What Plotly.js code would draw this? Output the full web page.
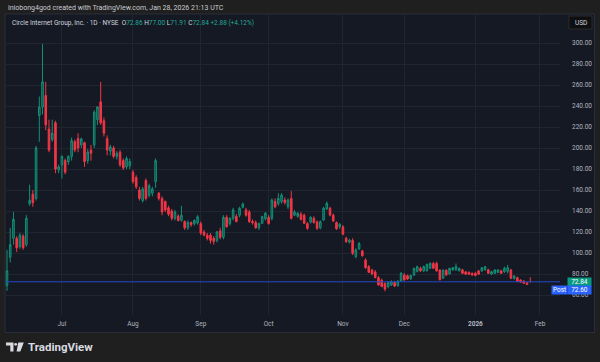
<!DOCTYPE html>
<html><head><meta charset="utf-8">
<script src="https://cdn.plot.ly/plotly-3.0.1.min.js"></script>
<style>html,body{margin:0;padding:0;background:#1f1f1f;overflow:hidden}#chart{width:600px;height:362px}</style>
</head><body><div id="chart"></div>
<script>
// ---- Data (CRCL daily) ----
const dates = [
 '2025-06-05','2025-06-06','2025-06-09','2025-06-10','2025-06-11','2025-06-12','2025-06-13','2025-06-16','2025-06-17','2025-06-18','2025-06-20','2025-06-23','2025-06-24','2025-06-25','2025-06-26','2025-06-27','2025-06-30',
 '2025-07-01','2025-07-02','2025-07-03','2025-07-07','2025-07-08','2025-07-09','2025-07-10','2025-07-11','2025-07-14','2025-07-15','2025-07-16','2025-07-17','2025-07-18','2025-07-21','2025-07-22','2025-07-23','2025-07-24','2025-07-25','2025-07-28','2025-07-29','2025-07-30','2025-07-31',
 '2025-08-01','2025-08-04','2025-08-05','2025-08-06','2025-08-07','2025-08-08','2025-08-11','2025-08-12','2025-08-13','2025-08-14','2025-08-15','2025-08-18','2025-08-19','2025-08-20','2025-08-21','2025-08-22','2025-08-25','2025-08-26','2025-08-27','2025-08-28','2025-08-29',
 '2025-09-02','2025-09-03','2025-09-04','2025-09-05','2025-09-08','2025-09-09','2025-09-10','2025-09-11','2025-09-12','2025-09-15','2025-09-16','2025-09-17','2025-09-18','2025-09-19','2025-09-22','2025-09-23','2025-09-24','2025-09-25','2025-09-26','2025-09-29','2025-09-30',
 '2025-10-01','2025-10-02','2025-10-03','2025-10-06','2025-10-07','2025-10-08','2025-10-09','2025-10-10','2025-10-13','2025-10-14','2025-10-15','2025-10-16','2025-10-17','2025-10-20','2025-10-21','2025-10-22','2025-10-23','2025-10-24','2025-10-27','2025-10-28','2025-10-29','2025-10-30','2025-10-31',
 '2025-11-03','2025-11-04','2025-11-05','2025-11-06','2025-11-07','2025-11-10','2025-11-11','2025-11-12','2025-11-13','2025-11-14','2025-11-17','2025-11-18','2025-11-19','2025-11-20','2025-11-21','2025-11-24','2025-11-25','2025-11-26','2025-11-28',
 '2025-12-01','2025-12-02','2025-12-03','2025-12-04','2025-12-05','2025-12-08','2025-12-09','2025-12-10','2025-12-11','2025-12-12','2025-12-15','2025-12-16','2025-12-17','2025-12-18','2025-12-19','2025-12-22','2025-12-23','2025-12-24','2025-12-26','2025-12-29','2025-12-30','2025-12-31',
 '2026-01-02','2026-01-05','2026-01-06','2026-01-07','2026-01-08','2026-01-09','2026-01-12','2026-01-13','2026-01-14','2026-01-15','2026-01-16','2026-01-20','2026-01-21','2026-01-22','2026-01-23','2026-01-26','2026-01-27','2026-01-28'
];
const open = [
 69,96,114,114,106,116,108,147,156,152,231,239,250,218,208,224,179,
 184,188,187,192,206,209,203,205,188,198,203,227,244,226,209,197,200,192,196,188,182,183,
 177,172,160,150,169,155,157,168,157,152,149,143,140,133,135,131,130,124,129,128,128.5,
 128,120,117,117,114,112,121,115,134,128,133,135,136,143.5,141,139,130,129,124,128.3,132.5,
 134,133,149,147,149,150.5,144,152,136,135,137,136,128,129.5,133,129.5,124,131.5,142,142.6,136,129,125,
 125,114,110.5,112,96.5,104,102,93.3,87,83.8,82,76.5,74,71,68,69.5,72,69,73.3,
 79,78.4,75.5,79,82.5,85.4,83,83,85.5,90,90,83.8,76,83.5,80,84,84,83,84,82,81.5,80.6,
 80.6,82.9,83,84,84,80,80.6,81.6,83,82.2,82.5,83.8,75.5,76.5,74.3,73.3,71.5,72.86
];
const high = [
 103,124,139,116,119,118,136,165,160,202,249,299,263,227,227,226,184,
 193,190,193,210,208,214,210,206,199,203,236,240,263,229,212,203,202,197,198,190,192,190,
 179,174,163,163,171,166,163,190,158,154,150,145,142,141,137,145,131,131,130,132,136,
 130,122,119,119,116,121,124,136,136,134,143,137,144,148,143,141,132,131,129,135.5,139,
 136,152,152,157,157,153,152,159,141,139,139,137.5,129.5,135,135,131,131,144,149,144,137.5,130,128.5,
 126.5,115.5,113.5,114,104.5,110.5,103,95,88.5,85,83.8,78,75.5,72,73,74,73.5,74,82,
 81,79.5,79.5,86,88,87,88,90,91,91.5,91.8,84.5,84.5,84.5,86,86.5,90,86,85,83,82.5,81.5,
 82,84,86.5,87.5,85,83,84.5,84.5,84,87,88.6,85,79,77.5,75,74,72.5,77.00
];
const low = [
 64,91,108,101,104,103,106,145,144,150,206,232,217,196,206,176,176,
 171,175,184,188,196,196,200,182,185,188,200,222,222,211,193,193,190,189,182,179,180,180,
 166,161,150,148,150,153,154,162,150,136,139,135,131,131,130,130,122,122,125,126,127,
 117,116,112,109,108,110,113,113,124,126,131,129,134,142.5,134.6,128.5,127,123,122,127.5,131,
 127,131,142.6,145,147,146,142,132,135,133.5,131,127.5,122,128,128,122,122.5,130.5,141,135,129.5,122,123,
 117,109.5,109,98,95,103,96.5,85,81,79,76,69,67.5,63.5,66.5,68.5,67.5,68,72.5,
 73.5,74.5,74.5,78,81.5,82,82,82.5,85,85,82.2,74,75.5,78.5,79.5,83,83,82.5,80,79.5,79.3,78.5,
 78,79.5,82,83,80,79,80,81,80,81,80.6,75,75,72.2,71.5,70.5,69.5,71.91
];
const close = [
 83,108,132,105,117,105,133,150,148,200,239,263,222,198,214,180,182,
 192,177,192,207,198,200,208.6,187,196,195,234,239,224,214,198,201,192,195,184,181,190,187,
 168,163,152,161,152,164,161,188,152,139,141,137,133,139,131,136,124,129,127,131,134.5,
 119,117,114,112,111,120,115,134,125,133,141,130,142.6,146.7,136,130,129,124,128,134.6,137.8,
 128,150.5,144,152,155,148,150.5,133,139,137.8,132,128.3,123.5,134,129,123.5,129.8,142.6,147.3,136.2,130.5,123,127.3,
 117.8,110.8,112,99.7,102.9,109,97.4,86,81.6,80,76.5,69.5,68,65.7,72,72.7,68.5,73.3,80.6,
 74.3,75.2,78.5,85.4,87,83,87,89,90.2,85.5,83,74.5,83.5,79,85.4,86,87,85.4,80.6,79.8,79.7,79,
 78.5,79.8,86,87,80.6,82.2,83.8,83.8,80.6,85.4,86,76,78,72.8,72.2,71.2,69.96,72.84
];
const postPrice = 72.60;
const futureDates = ['2026-01-29','2026-01-30','2026-02-02'];
const tickDates = ['2025-07-01','2025-08-01','2025-09-02','2025-10-01','2025-11-03','2025-12-01','2026-01-02','2026-02-02'];
const tickLabels = ['Jul','Aug','Sep','Oct','Nov','Dec','<b>2026</b>','Feb'];
const yTicks = [60,80,100,120,140,160,180,200,220,240,260,280,300];

// ---- Geometry ----
const W=600, H=362, ML=5, MR=40, MT=15, MB=47;
const PW=W-ML-MR, PH=H-MT-MB;
const px = x => (x-ML)/PW;
const py = y => (H-MB-y)/PH;
const P = (x,y) => px(x)+','+py(y);

const allDates = dates.concat(futureDates);
const xs = dates.map((d,i)=>i);
const tickvals = tickDates.map(d => allDates.indexOf(d));

const n = close.length;
const lastO = open[n-1], lastH = high[n-1], lastL = low[n-1], lastC = close[n-1];
const chg = lastC - close[n-2];
const pct = chg / close[n-2] * 100;
const G = '#22ab94', LBL = '#d1d4dc';
const sp = (c,t) => '<span style="color:'+c+'">'+t+'</span>';
const header = 'Circle Internet Group, Inc. · 1D · NYSE&nbsp;&nbsp;' +
  sp(LBL,'O')+sp(G,lastO.toFixed(2))+' '+sp(LBL,'H')+sp(G,lastH.toFixed(2))+' '+
  sp(LBL,'L')+sp(G,lastL.toFixed(2))+' '+sp(LBL,'C')+sp(G,lastC.toFixed(2))+' '+
  sp(G,(chg>=0?'+':'')+chg.toFixed(2)+' ('+(chg>=0?'+':'')+pct.toFixed(2)+'%)');

const FONT = 'Roboto, "Liberation Sans", sans-serif';
const trace = {
  type:'candlestick', x:xs, open:open, high:high, low:low, close:close,
  increasing:{line:{color:'#12917a', width:1}, fillcolor:'#0d4a43'},
  decreasing:{line:{color:'#f23645', width:1}, fillcolor:'#f23645'},
  whiskerwidth:0, hoverinfo:'skip', showlegend:false
};

const layout = {
  width:W, height:H, margin:{l:ML, r:MR, t:MT, b:MB, pad:0},
  paper_bgcolor:'#1f1f1f', plot_bgcolor:'rgba(0,0,0,0)',
  font:{family:FONT, color:'#b2b5be', size:7},
  showlegend:false, dragmode:false,
  xaxis:{type:'linear', range:[-0.62,171.2], rangeslider:{visible:false},
    tickmode:'array', tickvals:tickvals, ticktext:tickLabels,
    tickfont:{size:6.5, color:'#b2b5be', family:FONT},
    showgrid:true, gridcolor:'#21252f', gridwidth:1, zeroline:false, showline:false,
    ticks:'', ticklabelstandoff:3, fixedrange:true},
  yaxis:{side:'right', range:[40.95,326.67], tickmode:'array', tickvals:yTicks, tickformat:'.2f',
    tickfont:{size:6.5, color:'#b2b5be', family:FONT},
    showgrid:true, gridcolor:'#21252f', gridwidth:1, zeroline:false, showline:false,
    ticks:'', ticklabelstandoff:11, fixedrange:true},
  shapes:[
    {type:'rect', xref:'paper', yref:'paper', x0:px(5), x1:px(594.5), y0:py(332.5), y1:py(14),
     fillcolor:'#151924', line:{color:'#2a2e39', width:1}, layer:'below'},
    {type:'line', xref:'paper', yref:'y', x0:0, x1:1, y0:postPrice, y1:postPrice,
     line:{color:'#2447c4', width:1}},
    {type:'rect', xref:'paper', yref:'paper', x0:px(569), x1:px(592), y0:py(29), y1:py(16),
     fillcolor:'#0f0f11', line:{color:'#2a2a2e', width:1}},
    // TradingView logo mark
    {type:'path', xref:'paper', yref:'paper', path:'M'+P(6,342.5)+' L'+P(13.5,342.5)+' L'+P(13.5,351.5)+' L'+P(10.3,351.5)+' L'+P(10.3,345.5)+' L'+P(6,345.5)+' Z',
     fillcolor:'#d9dbe0', line:{width:0}},
    {type:'circle', xref:'paper', yref:'paper', x0:px(14.3), x1:px(17.1), y0:py(345.7), y1:py(342.9),
     fillcolor:'#d9dbe0', line:{width:0}},
    {type:'path', xref:'paper', yref:'paper', path:'M'+P(18.3,342.5)+' L'+P(23.8,342.5)+' L'+P(20.3,351.5)+' L'+P(16.6,351.5)+' Z',
     fillcolor:'#d9dbe0', line:{width:0}}
  ],
  annotations:[
    {xref:'paper', yref:'paper', x:px(6), y:py(8), xanchor:'left', yanchor:'middle', showarrow:false,
     text:'iniobong4god created with TradingView.com, Jan 28, 2026 21:13 UTC', font:{size:7, color:'#c9ccd3', family:FONT}},
    {xref:'paper', yref:'paper', x:px(10), y:py(22.5), xanchor:'left', yanchor:'middle', showarrow:false,
     text:header, font:{size:6.5, color:LBL, family:FONT}},
    {xref:'paper', yref:'paper', x:px(580.5), y:py(22.5), xanchor:'center', yanchor:'middle', showarrow:false,
     text:'USD', font:{size:6.5, color:'#d1d4dc', family:FONT}},
    {xref:'paper', yref:'y', x:px(567), y:lastC, xanchor:'left', yanchor:'middle', showarrow:false,
     text:lastC.toFixed(2), bgcolor:'#089981', width:22, height:7, borderpad:0.5, align:'center',
     font:{size:6.5, color:'#ffffff', family:FONT}},
    {xref:'paper', yref:'y', x:px(551), y:postPrice, yshift:-8, xanchor:'left', yanchor:'middle', showarrow:false,
     text:'Post', bgcolor:'#2962ff', width:14, height:7, borderpad:0.5, align:'center',
     font:{size:6.5, color:'#ffffff', family:FONT}},
    {xref:'paper', yref:'y', x:px(567), y:postPrice, yshift:-8, xanchor:'left', yanchor:'middle', showarrow:false,
     text:postPrice.toFixed(2), bgcolor:'#2962ff', width:22, height:7, borderpad:0.5, align:'center',
     font:{size:6.5, color:'#ffffff', family:FONT}},
    {xref:'paper', yref:'paper', x:px(26), y:py(347), xanchor:'left', yanchor:'middle', showarrow:false,
     text:'<b>TradingView</b>', font:{size:11.5, color:'#d9dbe0', family:FONT}}
  ]
};

Plotly.newPlot('chart', [trace], layout, {displayModeBar:false, staticPlot:true});
</script>
</body></html>
